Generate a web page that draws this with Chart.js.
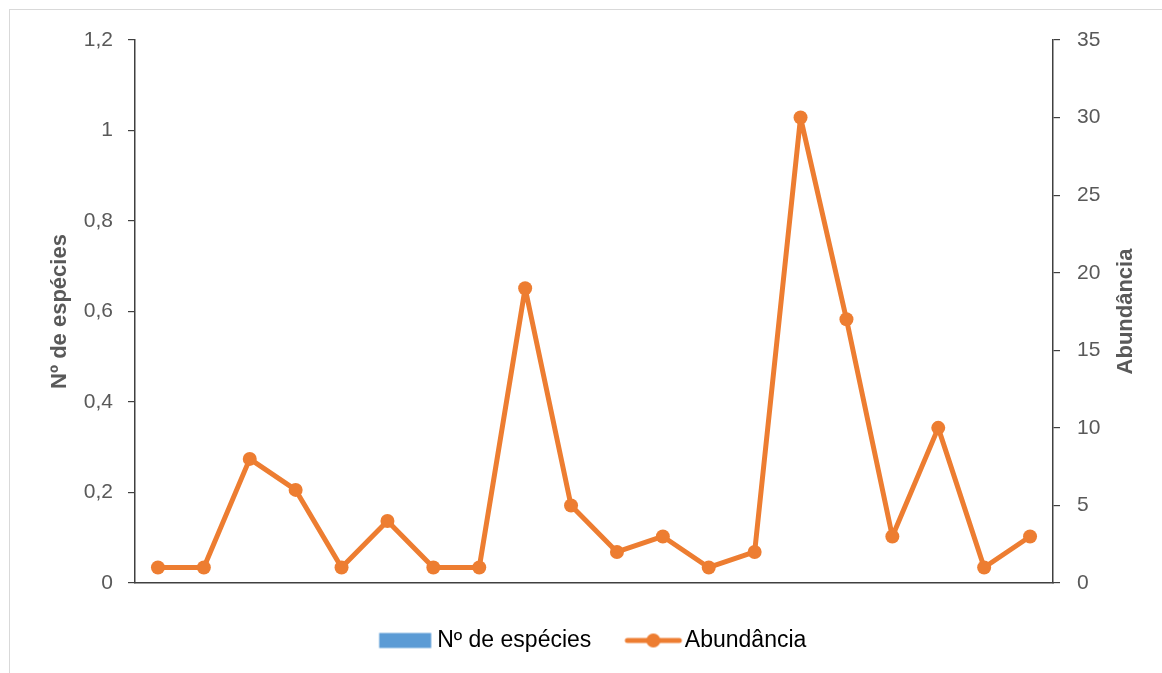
<!DOCTYPE html>
<html>
<head>
<meta charset="utf-8">
<script src="https://cdn.jsdelivr.net/npm/chart.js@4"></script>
<style>
  html, body { margin: 0; padding: 0; background: #fff; overflow: hidden; }
  #frame { position: absolute; left: 9px; top: 9px; width: 1200px; height: 700px; border: 1px solid #d9d9d9; }
  #wrap { position: absolute; left: 0; top: 0; width: 1162px; height: 673px; }
</style>
</head>
<body>
<div id="frame"></div>
<div id="wrap"><canvas id="chart"></canvas></div>
<script>
const labels = ["1","2","3","4","5","6","7","8","9","10","11","12","13","14","15","16","17","18","19","20"];
const especies = [0,0,0,0,0,0,0,0,0,0,0,0,0,0,0,0,0,0,0,0];
const abundancia = [1,1,8,6,1,4,1,1,19,5,2,3,1,2,30,17,3,10,1,3];

const BLUE = "#5B9BD5";
const ORANGE = "#ED7D31";
const GREY = "#595959";
const AXIS = "#404040";
const FONT = "'Liberation Sans', Arial, sans-serif";

// legend symbols, drawn like Excel's (image is centred on the legend box)
function barSymbol() {
    const c = document.createElement("canvas");
    c.width = 160; c.height = 20;
    const g = c.getContext("2d");
    g.fillStyle = BLUE;
    g.fillRect(68.5, 2.5, 52, 15);
    return c;
}
function lineSymbol() {
    const c = document.createElement("canvas");
    c.width = 160; c.height = 20;
    const g = c.getContext("2d");
    g.strokeStyle = ORANGE;
    g.lineWidth = 5;
    g.lineCap = "round";
    g.beginPath(); g.moveTo(69, 10); g.lineTo(121, 10); g.stroke();
    g.fillStyle = ORANGE;
    g.beginPath(); g.arc(95, 10, 7, 0, Math.PI * 2); g.fill();
    return c;
}
const symbols = [barSymbol(), lineSymbol()];

const rightTitle = {
    id: "rightTitle",
    afterDraw(chart) {
        const ctx = chart.ctx;
        const area = chart.chartArea;
        ctx.save();
        ctx.translate(1126, (area.top + area.bottom) / 2);
        ctx.rotate(-Math.PI / 2);
        ctx.font = "bold 22px " + FONT;
        ctx.fillStyle = GREY;
        ctx.textAlign = "center";
        ctx.textBaseline = "middle";
        ctx.fillText("Abundância", 0, 0);
        ctx.restore();
    }
};

new Chart(document.getElementById("chart"), {
    data: {
        labels: labels,
        datasets: [
            {
                type: "bar",
                label: "Nº de espécies",
                data: especies,
                backgroundColor: BLUE,
                yAxisID: "y",
                order: 2
            },
            {
                type: "line",
                label: "Abundância",
                data: abundancia,
                borderColor: ORANGE,
                backgroundColor: ORANGE,
                borderWidth: 5,
                borderJoinStyle: "round",
                borderCapStyle: "round",
                pointRadius: 7,
                pointHoverRadius: 7,
                pointBackgroundColor: ORANGE,
                pointBorderWidth: 0,
                tension: 0,
                yAxisID: "y1",
                order: 1
            }
        ]
    },
    options: {
        responsive: true,
        maintainAspectRatio: false,
        animation: false,
        layout: { padding: { top: 40, bottom: 11, left: 0, right: 0 } },
        plugins: {
            tooltip: { enabled: false },
            legend: {
                position: "bottom",
                labels: {
                    usePointStyle: true,
                    pointStyleWidth: 70,
                    boxHeight: 15,
                    padding: 12,
                    color: "#000",
                    font: { family: FONT, size: 23 },
                    generateLabels(chart) {
                        return chart.data.datasets.map((ds, i) => ({
                            text: ds.label,
                            pointStyle: symbols[i],
                            fillStyle: ds.backgroundColor,
                            strokeStyle: "transparent",
                            lineWidth: 0,
                            fontColor: "#000",
                            datasetIndex: i
                        }));
                    }
                }
            }
        },
        scales: {
            x: {
                offset: true,
                ticks: { display: false },
                grid: { display: false },
                border: { display: true, color: AXIS, width: 1.5 },
                afterFit(scale) { scale.height = 34; }
            },
            y: {
                position: "left",
                min: 0,
                max: 1.2,
                ticks: {
                    stepSize: 0.2,
                    padding: 15,
                    color: GREY,
                    font: { family: FONT, size: 21 },
                    callback: v => String(Math.round(v * 10) / 10).replace(".", ",")
                },
                grid: { drawOnChartArea: false, tickLength: 7, color: AXIS, lineWidth: 1.2 },
                border: { display: true, color: AXIS, width: 1.5 },
                title: {
                    display: true,
                    text: "Nº de espécies",
                    color: GREY,
                    font: { family: FONT, size: 22, weight: "bold" },
                    padding: { top: 47, bottom: 0 }
                },
                afterFit(scale) { scale.width = 135; }
            },
            y1: {
                position: "right",
                min: 0,
                max: 35,
                ticks: {
                    stepSize: 5,
                    padding: 17,
                    color: GREY,
                    font: { family: FONT, size: 21 }
                },
                grid: { drawOnChartArea: false, tickLength: 7, color: AXIS, lineWidth: 1.2 },
                border: { display: true, color: AXIS, width: 1.5 },
                afterFit(scale) { scale.width = 109; }
            }
        }
    },
    plugins: [rightTitle]
});
</script>
</body>
</html>
